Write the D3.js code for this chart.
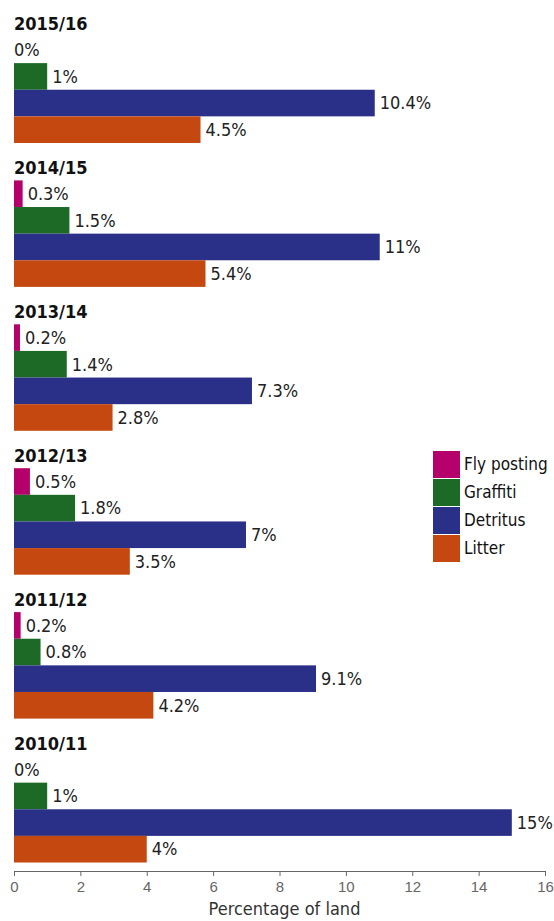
<!DOCTYPE html>
<html>
<head>
<meta charset="utf-8">
<script src="https://cdn.jsdelivr.net/npm/d3@7"></script>
<style>
    body { margin: 0; background: #fff; }
    svg { display: block; font-family: "Liberation Sans Narrow", "DejaVu Sans Condensed", "Roboto Condensed", "Liberation Sans", sans-serif; }
</style>
</head>
<body>
<svg id="chart" width="554" height="921"></svg>
<script>
// years, top to bottom
const years = ["2015/16", "2014/15", "2013/14", "2012/13", "2011/12", "2010/11"];
const categories = ["Fly posting", "Graffiti", "Detritus", "Litter"];
const colors = ["#b5006b", "#1d6a27", "#2a3087", "#c64811"];

// bar lengths as drawn, per category
const flyPosting = [0, 0.26, 0.18, 0.48, 0.2, 0];
const graffiti   = [1.0, 1.67, 1.59, 1.84, 0.8, 1.0];
const detritus   = [10.87, 11.02, 7.17, 6.99, 9.1, 15];
const litter     = [5.62, 5.77, 2.97, 3.49, 4.2, 4];

// printed labels next to the bars
const flyPostingLabels = ["0%", "0.3%", "0.2%", "0.5%", "0.2%", "0%"];
const graffitiLabels   = ["1%", "1.5%", "1.4%", "1.8%", "0.8%", "1%"];
const detritusLabels   = ["10.4%", "11%", "7.3%", "7%", "9.1%", "15%"];
const litterLabels     = ["4.5%", "5.4%", "2.8%", "3.5%", "4.2%", "4%"];

const xTicks = [0, 2, 4, 6, 8, 10, 12, 14, 16];
const xTitle = "Percentage of land";

const series = [flyPosting, graffiti, detritus, litter];
const seriesLabels = [flyPostingLabels, graffitiLabels, detritusLabels, litterLabels];

const margin = {top: 28, left: 14, right: 9, bottom: 50};
const width = 554, height = 921;

const svg = d3.select('#chart');

let x = d3.scaleLinear()
    .domain([0, 16])
    .range([margin.left, width - margin.right]);

let y0 = d3.scaleBand()
    .domain(years)
    .range([margin.top, height - margin.bottom])
    .paddingInner(0.26)
    .paddingOuter(0.059);

let y1 = d3.scaleBand()
    .domain(categories)
    .range([0, y0.bandwidth()]);

let color = d3.scaleOrdinal().domain(categories).range(colors);

let rows = years.map((yr, i) => ({
    year: yr,
    bars: categories.map((c, j) => ({cat: c, value: series[j][i], label: seriesLabels[j][i]}))
}));

let g = svg.selectAll('g.year')
    .data(rows).enter()
    .append('g')
    .attr('class', 'year')
    .attr('transform', d => `translate(0,${y0(d.year)})`);

g.append('text')
    .attr('x', margin.left)
    .attr('y', -6)
    .style('font-weight', 'bold')
    .style('font-size', '18px')
    .style('fill', '#111')
    .text(d => d.year);

g.selectAll('rect')
    .data(d => d.bars).enter()
    .append('rect')
    .attr('x', x(0))
    .attr('y', d => y1(d.cat))
    .attr('width', d => x(d.value) - x(0))
    .attr('height', y1.bandwidth())
    .attr('fill', d => color(d.cat));

g.selectAll('text.val')
    .data(d => d.bars).enter()
    .append('text')
    .attr('class', 'val')
    .attr('x', d => d.value > 0 ? x(d.value) + 5 : x(0))
    .attr('y', d => y1(d.cat) + y1.bandwidth() / 2)
    .attr('dy', '0.35em')
    .style('font-size', '18px')
    .style('fill', '#222')
    .text(d => d.label);

// axis
let axis = svg.append('g')
    .attr('transform', `translate(0,${height - margin.bottom})`)
    .call(d3.axisBottom(x).tickValues(xTicks).tickSize(5).tickPadding(5));
axis.select('.domain').attr('stroke', '#666');
axis.selectAll('.tick line').attr('stroke', '#666');
axis.selectAll('.tick text')
    .style('font-size', '15px')
    .style('font-family', 'inherit')
    .attr('fill', '#666');

svg.append('text')
    .attr('x', (x(0) + x(16)) / 2 + 5)
    .attr('y', height - 6)
    .attr('text-anchor', 'middle')
    .style('font-size', '18px')
    .style('fill', '#333')
    .text(xTitle);

// legend
let legend = svg.append('g')
    .attr('transform', 'translate(433,451)');

let li = legend.selectAll('g')
    .data(categories).enter()
    .append('g')
    .attr('transform', (d, i) => `translate(0,${i * 28})`);

li.append('rect')
    .attr('width', 27)
    .attr('height', 27)
    .attr('fill', d => color(d));

li.append('text')
    .attr('x', 31)
    .attr('y', 13.5)
    .attr('dy', '0.35em')
    .style('font-size', '17px')
    .style('fill', '#111')
    .text(d => d);
</script>
</body>
</html>
